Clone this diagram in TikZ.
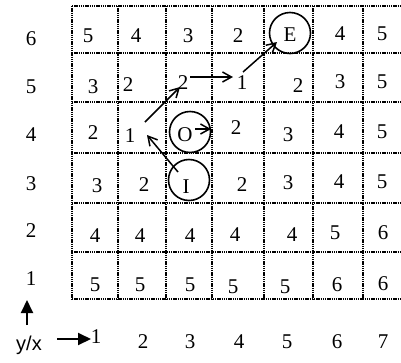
\documentclass[tikz,border=0pt]{standalone}
\usepackage{fontspec}
\setmainfont{Liberation Serif}
\setsansfont{Liberation Sans}
\usetikzlibrary{arrows.meta}
\begin{document}
\begin{tikzpicture}[x=1pt,y=-1pt,
  gridline/.style={line width=1.6pt,dash pattern=on 1.3pt off 0.9pt},
  num/.style={font=\fontsize{21}{23}\selectfont,inner sep=0pt,anchor=center},
  ring/.style={circle,draw,line width=1.6pt,minimum size=41pt,inner sep=0pt},
  pathar/.style={line width=1.5pt,-{Straight Barb[length=9pt,width=10pt,line width=1.5pt]}},
  axar/.style={line width=2pt,-{Triangle[length=13pt,width=12pt]}}]
\useasboundingbox (0,0) rectangle (401,362);
% grid
\foreach \x in {72,118,166,212,264,313,363} \draw[gridline] (\x,6) -- (\x,299);
\foreach \y in {6,53,102,153,203,252,299} \draw[gridline] (72,\y) -- (401,\y);
% y labels
\node[num] (y6) at (31,39) {6};
\node[num] (y5) at (31,87) {5};
\node[num] (y4) at (31,135) {4};
\node[num] (y3) at (31,184) {3};
\node[num] (y2) at (31,231) {2};
\node[num] (y1) at (31,279) {1};
% x labels
\node[num] (x1) at (96,337) {1};
\node[num] (x2) at (143,342) {2};
\node[num] (x3) at (190,342) {3};
\node[num] (x4) at (239,342) {4};
\node[num] (x5) at (287,342) {5};
\node[num] (x6) at (337,342) {6};
\node[num] (x7) at (383,342) {7};
\node[num,font=\fontsize{20}{22}\sffamily] (yx) at (29,345) {y/x};
% axis arrows
\coordinate (ua) at (27,325);
\coordinate (ub) at (27,300);
\draw[axar] (ua) -- (ub);
\coordinate (ra) at (57,339);
\coordinate (rb) at (91,339);
\draw[axar] (ra) -- (rb);
% row 6
\node[num] (c16) at (88,36) {5};
\node[num] (c26) at (136,36) {4};
\node[num] (c36) at (188,36) {3};
\node[num] (c46) at (238,36) {2};
\node[ring] (E) at (290,33) {};
\node[num] (Et) at (290,35) {E};
\node[num] (c66) at (340,34) {4};
\node[num] (c76) at (382,34) {5};
% row 5
\node[num] (c15) at (93,87) {3};
\node[num] (c25) at (128,85) {2};
\node[num] (c35) at (183,83) {2};
\node[num] (c45) at (242,83) {1};
\node[num] (c55) at (298,86) {2};
\node[num] (c65) at (340,82) {3};
\node[num] (c75) at (382,82) {5};
% row 4
\node[num] (c14) at (93,133) {2};
\node[num] (c24) at (130,136) {1};
\node[ring] (O) at (190,132) {};
\node[num] (Ot) at (185,135) {O};
\node[num] (c44) at (236,128) {2};
\node[num] (c54) at (288,135) {3};
\node[num] (c64) at (339,132) {4};
\node[num] (c74) at (382,132) {5};
% row 3
\node[num] (c13) at (97,186) {3};
\node[num] (c23) at (144,185) {2};
\node[ring] (I) at (189,180) {};
\node[num] (It) at (186,187) {I};
\node[num] (c43) at (242,185) {2};
\node[num] (c53) at (288,183) {3};
\node[num] (c63) at (339,182) {4};
\node[num] (c73) at (382,182) {5};
% row 2
\node[num] (c12) at (95,236) {4};
\node[num] (c22) at (140,236) {4};
\node[num] (c32) at (190,236) {4};
\node[num] (c42) at (235,235) {4};
\node[num] (c52) at (292,235) {4};
\node[num] (c62) at (335,233) {5};
\node[num] (c72) at (383,233) {6};
% row 1
\node[num] (c11) at (95,285) {5};
\node[num] (c21) at (140,285) {5};
\node[num] (c31) at (190,285) {5};
\node[num] (c41) at (233,287) {5};
\node[num] (c51) at (285,287) {5};
\node[num] (c61) at (337,285) {6};
\node[num] (c71) at (383,284) {6};
% path arrows
\coordinate (a1s) at (178,172);
\coordinate (a1e) at (147,135);
\draw[pathar] (a1s) -- (a1e);
\coordinate (a2s) at (145,122);
\coordinate (a2e) at (180,87);
\draw[pathar] (a2s) -- (a2e);
\coordinate (a3s) at (190,77);
\coordinate (a3e) at (233,77);
\draw[pathar] (a3s) -- (a3e);
\coordinate (a4s) at (243,72);
\coordinate (a4e) at (277,42);
\draw[pathar] (a4s) -- (a4e);
\coordinate (a5s) at (195,129);
\coordinate (a5e) at (211,129);
\draw[pathar] (a5s) -- (a5e);
\end{tikzpicture}
\end{document}
